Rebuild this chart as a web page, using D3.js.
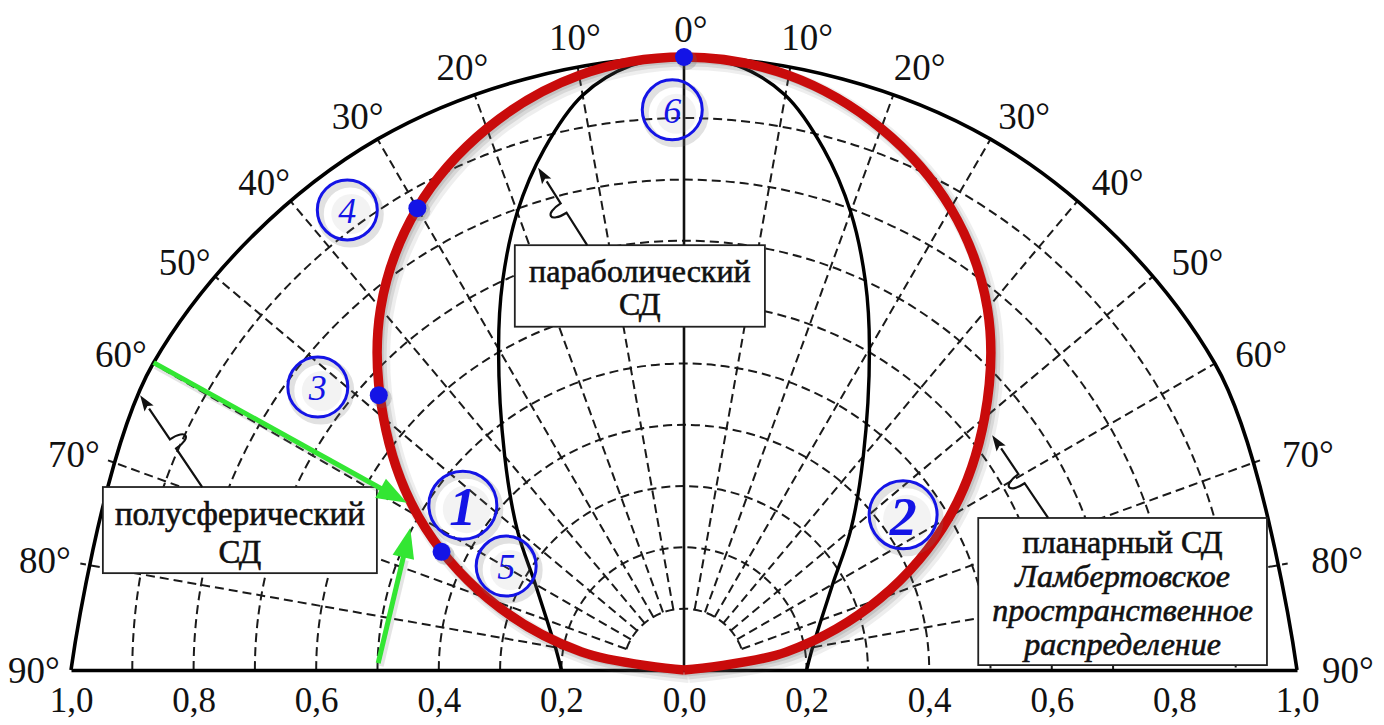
<!DOCTYPE html>
<html><head><meta charset="utf-8">
<script src="https://cdn.jsdelivr.net/npm/d3@7"></script>
<style>
html,body{margin:0;padding:0;background:#fff;}
svg{display:block;}
</style></head><body>
<svg id="chart" width="1384" height="725"></svg>
<script>
// ---------------- data ----------------
const angleTicks = [-90,-80,-70,-60,-50,-40,-30,-20,-10,0,10,20,30,40,50,60,70,80,90];
const angleTickLabels = ["90°","80°","70°","60°","50°","40°","30°","20°","10°","0°","10°","20°","30°","40°","50°","60°","70°","80°","90°"];
const gridRadialAngles = [-80,-70,-60,-50,-40,-30,-20,-10,10,20,30,40,50,60,70,80];
const gridCircles = [0.2,0.3,0.4,0.5,0.6,0.7,0.8,0.9];
const innerGridCircle = 0.1;
const xTickValues = [-1,-0.8,-0.6,-0.4,-0.2,0,0.2,0.4,0.6,0.8,1];
const xTickLabels = ["1,0","0,8","0,6","0,4","0,2","0,0","0,2","0,4","0,6","0,8","1,0"];

// hemispherical LED: r = 1 at all angles (outer circle)
const hemiAngles = [-90,-60,-30,0,30,60,90];
const hemiR = [1,1,1,1,1,1,1];

// planar LED, Lambertian distribution (red)
const lambertAngles = [-90,-80,-70,-60,-50,-40,-30,-20,-10,0,10,20,30,40,50,60,70,80,90];
const lambertR = [0,0.17,0.34,0.50,0.64,0.77,0.87,0.94,0.985,1.00,0.985,0.94,0.87,0.77,0.64,0.50,0.34,0.17,0];

// parabolic LED (black narrow lobe)
const paraAngles = [-90,-80,-70,-60,-50,-40,-30,-25,-20,-15,-10,-5,0,5,10,15,20,25,30,40,50,60,70,80,90];
const paraR = [0.20,0.213,0.238,0.28,0.355,0.455,0.605,0.70,0.795,0.88,0.952,0.99,1.00,0.99,0.952,0.88,0.795,0.70,0.605,0.455,0.355,0.28,0.238,0.213,0.20];

// blue dots on the red curve
const dotAngles = [0,-30,-48,-64];
const dotR = [1.00,0.87,0.67,0.44];

// circled numbers (polar position)
const calloutText = ["1","2","3","4","5","6"];
const calloutAngles = [-53.3,54.7,-52.3,-36.2,-59.7,-1.2];
const calloutR = [0.45,0.438,0.755,0.93,0.336,0.914];
const calloutBold = [true,true,false,false,false,false];

// label boxes
const boxLines = [
  [["полусферический",false],["СД",false]],
  [["параболический",false],["СД",false]],
  [["планарный СД",false],["Ламбертовское",true],["пространственное",true],["распределение",true]]
];

// ---------------- layout ----------------
const cx = 684, cy = 670, R = 613;
const svg = d3.select("#chart");
const rScale = d3.scaleLinear().domain([0,1]).range([0,R]);
const aScale = d3.scaleLinear().domain([-90,90]).range([-Math.PI/2, Math.PI/2]);
const xScale = d3.scaleLinear().domain([-1,1]).range([cx-R, cx+R]);
const yScale = d3.scaleLinear().domain([0,1]).range([cy, cy-R]);
function pol(a, r){ const t = aScale(a), rr = rScale(r); return [cx + rr*Math.sin(t), cy - rr*Math.cos(t)]; }
const FONT = '"Liberation Serif", "Times New Roman", monospace';
function serif(sel){ return sel.attr("font-family","Liberation Serif").style("font-family", FONT, "important"); }

const RED = "#c90b0b", BLUE = "#1414e6", GREEN = "#33e633";
const g = svg.append("g");

// ---------- grid ----------
const grid = g.append("g").attr("fill","none").attr("stroke","#1a1a1a").attr("stroke-width",2).attr("stroke-dasharray","9,5");
gridCircles.forEach(r => {
  const p = d3.path(); p.arc(cx, cy, rScale(r), -Math.PI, 0);
  grid.append("path").attr("d", p.toString());
});
{
  const p = d3.path();
  p.arc(cx, cy, rScale(innerGridCircle), aScale(-70)-Math.PI/2, aScale(70)-Math.PI/2);
  grid.append("path").attr("d", p.toString());
}
grid.selectAll("line.rad").data(gridRadialAngles).join("line")
  .attr("x1", a => pol(a, innerGridCircle)[0]).attr("y1", a => pol(a, innerGridCircle)[1])
  .attr("x2", a => pol(a, 1)[0]).attr("y2", a => pol(a, 1)[1]);

// vertical 0° axis
g.append("line").attr("x1", pol(0,0)[0]).attr("y1", pol(0,0)[1]).attr("x2", pol(0,1)[0]).attr("y2", pol(0,1)[1])
  .attr("stroke","#111").attr("stroke-width",2.6);

// outer circle: hemispherical LED
const radial = d3.lineRadial().angle(d => aScale(d[0])).radius(d => rScale(d[1])).curve(d3.curveCatmullRom.alpha(0.5));
g.append("path").datum(d3.zip(hemiAngles, hemiR))
  .attr("transform",`translate(${cx},${cy})`)
  .attr("d", radial).attr("fill","none").attr("stroke","#000").attr("stroke-width",3.6);

// x axis
const xAxis = d3.axisBottom(xScale).tickValues(xTickValues).tickSize(0).tickSizeOuter(0)
  .tickFormat((d,i) => xTickLabels[i]);
const ax = g.append("g").attr("transform",`translate(0,${cy})`).call(xAxis);
serif(ax).attr("font-size",35);
ax.select(".domain").attr("stroke","#000").attr("stroke-width",3.6);
serif(ax.selectAll("text")).attr("font-size",35).attr("fill","#111")
  .attr("y",0).attr("dy",null).attr("transform","translate(0,42)");

// parabolic curve
g.append("path").datum(d3.zip(paraAngles, paraR))
  .attr("transform",`translate(${cx},${cy})`)
  .attr("d", radial).attr("fill","none").attr("stroke","#000").attr("stroke-width",3.4);

// red Lambertian curve (soft shadow copies, then the line)
const lam = d3.zip(lambertAngles, lambertR);
[[5,5,16,0.10],[4,4,11,0.14],[3,3,7,0.16]].forEach(s => {
  g.append("path").datum(lam).attr("transform",`translate(${cx+s[0]},${cy+s[1]})`)
    .attr("d", radial).attr("fill","none").attr("stroke","#555").attr("stroke-opacity",s[3]).attr("stroke-width",s[2]);
});
g.append("path").datum(lam)
  .attr("transform",`translate(${cx},${cy})`)
  .attr("d", radial).attr("fill","none").attr("stroke",RED).attr("stroke-width",9.5);

// blue dots
const dots = d3.zip(dotAngles, dotR);
g.selectAll("circle.dsh").data(dots).join("circle")
  .attr("cx", d => pol(d[0], d[1])[0] + 3).attr("cy", d => pol(d[0], d[1])[1] + 3).attr("r", 10)
  .attr("fill", "#666").attr("fill-opacity",0.25);
g.selectAll("circle.dot").data(dots).join("circle")
  .attr("cx", d => pol(d[0], d[1])[0]).attr("cy", d => pol(d[0], d[1])[1]).attr("r", 9)
  .attr("fill", BLUE);

// circled numbers
const co = g.selectAll("g.callout").data(calloutText.map((t,i) => ({t, a: calloutAngles[i], r: calloutR[i], b: calloutBold[i]})))
  .join("g").attr("transform", d => `translate(${pol(d.a, d.r)[0]},${pol(d.a, d.r)[1]})`);
co.append("circle").attr("cx",3).attr("cy",4).attr("r", d => (d.b ? 34 : 30)).attr("fill","none")
  .attr("stroke","#777").attr("stroke-opacity",0.22).attr("stroke-width",7);
co.append("circle").attr("cx",4).attr("cy",4).attr("r", d => (d.b ? 24 : 20)).attr("fill","#999").attr("fill-opacity",0.12);
co.append("circle").attr("r", d => d.b ? 34 : 30).attr("fill","none").attr("stroke",BLUE).attr("stroke-width",3);
serif(co.append("text")).text(d => d.t).attr("text-anchor","middle").attr("dominant-baseline","central")
  .attr("font-style","italic").attr("font-weight", d => d.b ? "bold" : "normal")
  .attr("font-size", d => d.b ? 54 : 36).attr("fill",BLUE).attr("dy", d => d.b ? 2 : 1);

// ---------- label boxes ----------
const boxes = [
  {x0:-0.948, x1:-0.501, y0:0.2985, y1:0.158, first:38, lh:38, fs:33},
  {x0:-0.276, x1: 0.132, y0:0.693, y1:0.560, first:37, lh:33, fs:32},
  {x0: 0.480, x1: 0.951, y0:0.248, y1:0.008, first:35, lh:34, fs:32}
];
boxes.forEach((b, i) => {
  const bx = xScale(b.x0), by = yScale(b.y0), bw = xScale(b.x1) - bx, bh = yScale(b.y1) - by;
  g.append("rect").attr("x",bx).attr("y",by).attr("width",bw).attr("height",bh)
    .attr("fill","#fff").attr("stroke","#222").attr("stroke-width",1.8);
  const tx = bx + bw/2;
  boxLines[i].forEach((ln, j) => {
    serif(g.append("text")).text(ln[0]).attr("x",tx).attr("y", by + b.first + j*b.lh)
      .attr("text-anchor","middle").attr("font-size",b.fs)
      .attr("font-style", ln[1] ? "italic" : "normal")
      .attr("fill","#111").attr("stroke","#111").attr("stroke-width",0.6);
  });
});

// ---------- squiggle leader arrows ----------
const leaders = [
  {tip: pol(-63.2, 0.994), base: [xScale(-0.786), yScale(0.2985)], side: 1},
  {tip: pol(-16.2, 0.853), base: [xScale(-0.158), yScale(0.693)], side: -1},
  {tip: pol(52.7, 0.632),  base: [xScale(0.594), yScale(0.248)], side: -1}
];
leaders.forEach(l => {
  const [bx, by] = l.base, [tx, ty] = l.tip;
  const L = Math.hypot(tx-bx, ty-by), ux = (tx-bx)/L, uy = (ty-by)/L;
  const nx = -uy*l.side, ny = ux*l.side;
  const s = 0.42*L;
  const P1 = [bx + ux*s, by + uy*s], P2 = [bx + ux*(s+11), by + uy*(s+11)];
  const hl = 16, hw = 5.5;
  const E = [tx - ux*hl, ty - uy*hl];
  const p = d3.path();
  p.moveTo(bx, by); p.lineTo(P1[0], P1[1]);
  p.bezierCurveTo(P1[0]+nx*20, P1[1]+ny*20, P2[0]+nx*20, P2[1]+ny*20, P2[0], P2[1]);
  p.lineTo(E[0], E[1]);
  g.append("path").attr("d", p.toString()).attr("fill","none").attr("stroke","#111").attr("stroke-width",2.2);
  g.append("path").attr("d", `M${tx},${ty}L${E[0]+uy*hw},${E[1]-ux*hw}L${E[0]+ux*3},${E[1]+uy*3}L${E[0]-uy*hw},${E[1]+ux*hw}Z`)
    .attr("fill","#111");
});

// ---------- green arrows ----------
const greens = [
  {from: pol(-59.9, 1.0), to: pol(-58.9, 0.528)},
  {from: pol(-88.7, 0.499), to: pol(-62.6, 0.503)}
];
greens.forEach(a => {
  const [x0, y0] = a.from, [x1, y1] = a.to;
  const L = Math.hypot(x1-x0, y1-y0), ux = (x1-x0)/L, uy = (y1-y0)/L;
  const hl = 30, hw = 11;
  const E = [x1 - ux*hl, y1 - uy*hl];
  g.append("line").attr("x1",x0+2).attr("y1",y0+3).attr("x2",E[0]+2).attr("y2",E[1]+3)
    .attr("stroke","#777").attr("stroke-opacity",0.2).attr("stroke-width",7);
  g.append("line").attr("x1",x0).attr("y1",y0).attr("x2",E[0]+ux*4).attr("y2",E[1]+uy*4)
    .attr("stroke",GREEN).attr("stroke-width",5);
  g.append("path").attr("d", `M${x1},${y1}L${E[0]+uy*hw},${E[1]-ux*hw}L${E[0]-uy*hw},${E[1]+ux*hw}Z`).attr("fill",GREEN);
});

// ---------- angle labels ----------
function labelPos(a){
  const da = 1.2*Math.sin(2*Math.abs(a)*Math.PI/180)*Math.sign(a);
  const rr = (R + 28 + 16*Math.abs(a)/90)/R;
  const p = pol(a + da, rr);
  return [p[0] + 7, p[1]];
}
serif(g.selectAll("text.ang").data(angleTicks).join("text"))
  .attr("class","ang")
  .attr("x", a => labelPos(a)[0]).attr("y", a => labelPos(a)[1])
  .attr("text-anchor","middle").attr("dominant-baseline","central")
  .attr("font-size",37).attr("fill","#111")
  .text((a,i) => angleTickLabels[i]);

// re-apply the font once system fonts are ready (harmless if already applied)
if (document.fonts && document.fonts.ready) {
  document.fonts.ready.then(() => { serif(svg.selectAll("text")); });
}
</script>
</body></html>
